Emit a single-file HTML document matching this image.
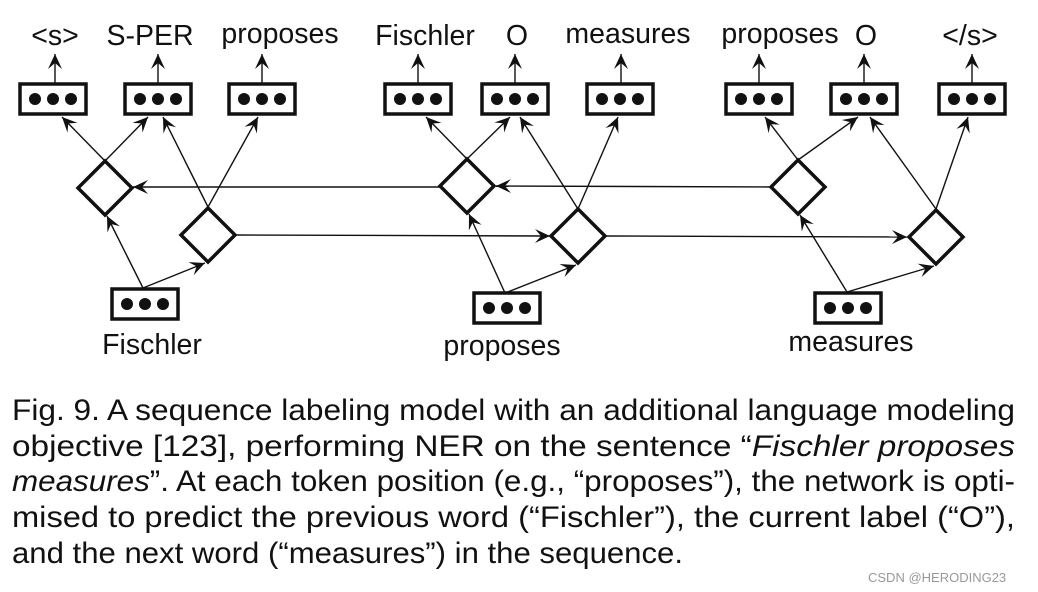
<!DOCTYPE html>
<html><head><meta charset="utf-8"><style>
body{margin:0;background:#fff;width:1038px;height:592px;overflow:hidden}
svg{display:block}
text{font-family:"Liberation Sans",Arial,sans-serif;fill:#111}
</style></head><body>
<svg width="1038" height="592" viewBox="0 0 1038 592" xmlns="http://www.w3.org/2000/svg">
<defs>
<marker id="a" viewBox="-16 -8 18 16" markerWidth="18" markerHeight="16" refX="0" refY="0" orient="auto" markerUnits="userSpaceOnUse">
<path d="M0,0 L-15,-7 L-9,0 L-15,7 Z" fill="#111"/>
</marker>
<g id="box"><rect x="0" y="0" width="66" height="30" fill="#fff" stroke="#111" stroke-width="3.5"/><circle cx="15" cy="15" r="6" fill="#111"/><circle cx="33" cy="15" r="6" fill="#111"/><circle cx="51" cy="15" r="6" fill="#111"/></g>
</defs>
<g stroke="#111" stroke-width="1.4" fill="none">
<line x1="55" y1="84" x2="55" y2="54" marker-end="url(#a)"/>
<line x1="158" y1="84" x2="158" y2="54" marker-end="url(#a)"/>
<line x1="262" y1="84" x2="262" y2="54" marker-end="url(#a)"/>
<line x1="418" y1="84" x2="418" y2="54" marker-end="url(#a)"/>
<line x1="515" y1="84" x2="515" y2="54" marker-end="url(#a)"/>
<line x1="621" y1="84" x2="621" y2="54" marker-end="url(#a)"/>
<line x1="759" y1="84" x2="759" y2="54" marker-end="url(#a)"/>
<line x1="864" y1="84" x2="864" y2="54" marker-end="url(#a)"/>
<line x1="972" y1="84" x2="972" y2="54" marker-end="url(#a)"/>
<line x1="440" y1="187" x2="133" y2="187" marker-end="url(#a)"/>
<line x1="771" y1="187" x2="496" y2="186" marker-end="url(#a)"/>
<line x1="235" y1="235" x2="550" y2="236" marker-end="url(#a)"/>
<line x1="606" y1="236" x2="907" y2="237" marker-end="url(#a)"/>
<line x1="143" y1="288" x2="107" y2="216" marker-end="url(#a)"/>
<line x1="143" y1="288" x2="205" y2="263" marker-end="url(#a)"/>
<line x1="105" y1="161" x2="62" y2="117" marker-end="url(#a)"/>
<line x1="105" y1="161" x2="148" y2="117" marker-end="url(#a)"/>
<line x1="208" y1="207" x2="163" y2="117" marker-end="url(#a)"/>
<line x1="208" y1="207" x2="258" y2="117" marker-end="url(#a)"/>
<line x1="505" y1="293" x2="469" y2="214" marker-end="url(#a)"/>
<line x1="505" y1="293" x2="576" y2="265" marker-end="url(#a)"/>
<line x1="467" y1="159" x2="426" y2="117" marker-end="url(#a)"/>
<line x1="467" y1="159" x2="510" y2="117" marker-end="url(#a)"/>
<line x1="578" y1="209" x2="520" y2="117" marker-end="url(#a)"/>
<line x1="578" y1="209" x2="618" y2="117" marker-end="url(#a)"/>
<line x1="847" y1="292" x2="800" y2="215" marker-end="url(#a)"/>
<line x1="847" y1="292" x2="934" y2="266" marker-end="url(#a)"/>
<line x1="798" y1="160" x2="765" y2="117" marker-end="url(#a)"/>
<line x1="798" y1="160" x2="858" y2="117" marker-end="url(#a)"/>
<line x1="936" y1="209" x2="870" y2="117" marker-end="url(#a)"/>
<line x1="936" y1="209" x2="968" y2="117" marker-end="url(#a)"/>
</g>
<g fill="#fff" stroke="#111" stroke-width="3.5">
<polygon points="105,161 132,188 105,215 78,188"/>
<polygon points="208,208 235,235 208,262 181,235"/>
<polygon points="467,159 494,186 467,213 440,186"/>
<polygon points="578,209 605,236 578,263 551,236"/>
<polygon points="798,160 825,187 798,214 771,187"/>
<polygon points="936,210 963,237 936,264 909,237"/>
</g>
<use href="#box" x="20" y="84"/>
<use href="#box" x="125" y="84"/>
<use href="#box" x="229" y="84"/>
<use href="#box" x="385" y="84"/>
<use href="#box" x="482" y="84"/>
<use href="#box" x="587" y="84"/>
<use href="#box" x="726" y="84"/>
<use href="#box" x="831" y="84"/>
<use href="#box" x="939" y="84"/>
<use href="#box" x="112" y="289"/>
<use href="#box" x="474" y="293"/>
<use href="#box" x="815" y="293"/>
<g font-size="28.5" text-anchor="middle">
<text x="55" y="45">&lt;s&gt;</text>
<text x="150" y="45">S-PER</text>
<text x="280" y="43">proposes</text>
<text x="425" y="45">Fischler</text>
<text x="517" y="45">O</text>
<text x="628" y="43">measures</text>
<text x="780" y="43">proposes</text>
<text x="866" y="45">O</text>
<text x="970" y="45">&lt;/s&gt;</text>
<text x="152" y="354">Fischler</text>
<text x="502" y="355">proposes</text>
<text x="851" y="351">measures</text>
</g>
<g font-size="29.5">
<text x="12" y="420" textLength="1003" lengthAdjust="spacingAndGlyphs">Fig. 9. A sequence labeling model with an additional language modeling</text>
<text x="12" y="456" textLength="1003" lengthAdjust="spacingAndGlyphs">objective [123], performing NER on the sentence “<tspan font-style="italic">Fischler proposes</tspan></text>
<text x="12" y="491" textLength="1003" lengthAdjust="spacingAndGlyphs"><tspan font-style="italic">measures</tspan>”. At each token position (e.g., “proposes”), the network is opti-</text>
<text x="12" y="527" textLength="1003" lengthAdjust="spacingAndGlyphs">mised to predict the previous word (“Fischler”), the current label (“O”),</text>
<text x="12" y="563" textLength="671" lengthAdjust="spacingAndGlyphs">and the next word (“measures”) in the sequence.</text>
</g>
<text x="868" y="582" font-size="13" style="fill:#999">CSDN @HERODING23</text>
</svg>
</body></html>
